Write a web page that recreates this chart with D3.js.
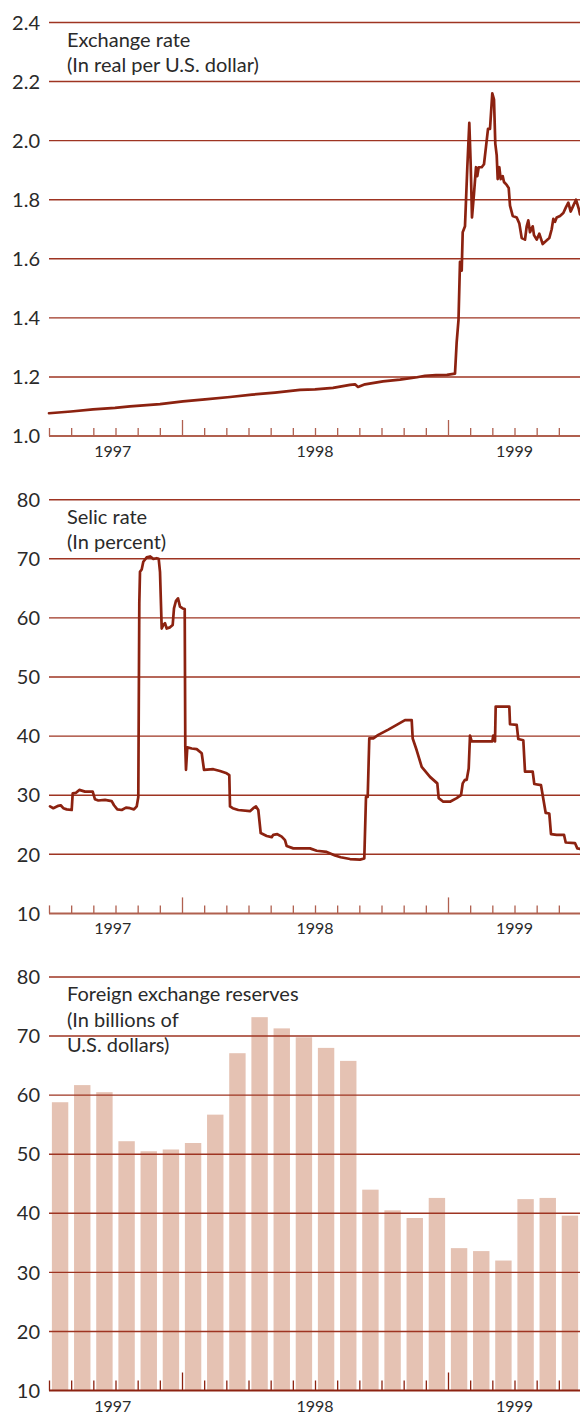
<!DOCTYPE html>
<html>
<head>
<meta charset="utf-8">
<script src="https://d3js.org/d3.v7.min.js"></script>
<style>
body{margin:0;background:#fff;}
svg text{font-family:Lato,"Open Sans",sans-serif;fill:#2a2a2a;}
</style>
</head>
<body>
<svg id="chart" width="580" height="1414"></svg>
<script>
/* time is kept as decimal years (1997.5 = July 1997) */
var monthTicks = d3.range(0, 25).map(function(k){ return 1997.5 + k / 12; });
var yearLabels = ['1997', '1998', '1999'];
var yearLabelAt = [1997.74, 1998.5, 1999.25];

// exchange rate, real per U.S. dollar
var exTime = [1997.5,1997.5827,1997.6654,1997.7481,1997.8045,1997.9173,1998.0038,1998.0865,1998.1805,1998.2632,
	1998.3496,1998.4436,1998.5,1998.5677,1998.6316,1998.6504,1998.6617,1998.688,1998.7556,1998.8195,
	1998.8835,1998.9135,1998.9549,1998.9962,1999.0263,1999.0327,1999.0395,1999.0451,1999.0515,1999.0553,
	1999.0639,1999.0726,1999.0801,1999.0853,1999.0902,1999.0977,1999.1053,1999.1102,1999.1154,1999.1267,
	1999.1353,1999.1429,1999.1504,1999.1579,1999.1665,1999.1729,1999.1778,1999.1831,1999.1868,1999.1929,
	1999.1981,1999.2056,1999.2105,1999.2207,1999.2282,1999.2331,1999.2432,1999.2583,1999.268,1999.2771,
	1999.2895,1999.2959,1999.3019,1999.3083,1999.3184,1999.3233,1999.3335,1999.3432,1999.356,1999.3684,
	1999.3808,1999.3898,1999.3959,1999.4023,1999.4086,1999.4211,1999.4335,1999.4436,1999.4523,1999.4613,
	1999.4711,1999.4812,1999.4914,1999.4962];
var exRate = [1.077,1.083,1.090,1.095,1.100,1.108,1.117,1.124,1.132,1.140,
	1.147,1.156,1.158,1.163,1.173,1.175,1.166,1.175,1.185,1.191,
	1.199,1.204,1.206,1.207,1.211,1.319,1.393,1.59,1.56,1.69,
	1.71,1.91,2.06,1.92,1.74,1.82,1.91,1.88,1.91,1.91,
	1.92,1.98,2.04,2.04,2.16,2.14,1.99,1.95,1.87,1.91,
	1.87,1.88,1.86,1.85,1.84,1.78,1.745,1.74,1.72,1.67,
	1.665,1.71,1.73,1.69,1.71,1.68,1.665,1.685,1.65,1.66,
	1.67,1.70,1.735,1.725,1.74,1.745,1.755,1.775,1.79,1.76,
	1.78,1.80,1.77,1.75];
var exTicks = [1.0, 1.2, 1.4, 1.6, 1.8, 2.0, 2.2, 2.4];

// selic rate, percent
var selicTime = [1997.5038,1997.5162,1997.535,1997.544,1997.5538,1997.5665,1997.5853,1997.5891,1997.6015,1997.6139,
	1997.6353,1997.6643,1997.6729,1997.6853,1997.7105,1997.7357,1997.7444,1997.7568,1997.7733,1997.7895,
	1997.8045,1997.8195,1997.8297,1997.8357,1997.8395,1997.8421,1997.8485,1997.8545,1997.8673,1997.8797,
	1997.8921,1997.9049,1997.9124,1997.9173,1997.9237,1997.9297,1997.9361,1997.9425,1997.9549,1997.965,
	1997.9699,1997.9774,1997.985,1997.9925,1998.0026,1998.0102,1998.0124,1998.015,1998.0199,1998.0365,
	1998.0553,1998.0741,1998.0827,1998.1177,1998.1429,1998.168,1998.1778,1998.1805,1998.1906,1998.2117,
	1998.2556,1998.268,1998.2782,1998.2868,1998.2959,1998.3184,1998.3372,1998.3432,1998.3583,1998.3748,
	1998.3872,1998.3936,1998.4184,1998.4812,1998.5064,1998.544,1998.5752,1998.5966,1998.6316,1998.6692,
	1998.6853,1998.6917,1998.6981,1998.7041,1998.7192,1998.738,1998.7756,1998.8071,1998.8383,1998.8635,
	1998.8673,1998.8823,1998.9011,1998.9323,1998.9598,1998.965,1998.9823,1999.0075,1999.0327,1999.0489,
	1999.0553,1999.0639,1999.0703,1999.0778,1999.0827,1999.0891,1999.1203,1999.1665,1999.1703,1999.1767,
	1999.1793,1999.2305,1999.2331,1999.2583,1999.2643,1999.2831,1999.2895,1999.3184,1999.3244,1999.3496,
	1999.3673,1999.3808,1999.3872,1999.4086,1999.4361,1999.4425,1999.4774,1999.4861,1999.4962];
var selicRate = [28.1,27.8,28.2,28.3,27.8,27.6,27.5,30.3,30.4,30.9,
	30.6,30.6,29.3,29.1,29.2,29.0,28.3,27.6,27.5,27.9,
	27.8,27.6,28.1,29.7,62.5,67.8,68.2,69.5,70.25,70.4,
	70.0,70.1,70.0,67.8,58.2,58.8,59.1,58.2,58.4,58.8,
	61.6,62.9,63.3,61.9,61.6,61.5,38.2,34.3,38.1,37.9,
	37.8,37.1,34.3,34.4,34.1,33.7,33.4,28.1,27.8,27.5,
	27.3,27.8,28.1,27.5,23.6,23.1,22.9,23.3,23.4,23.0,
	22.4,21.4,21.0,21.0,20.6,20.4,19.8,19.5,19.2,19.1,
	19.3,29.7,29.7,39.6,39.6,40.2,41.1,41.9,42.7,42.7,
	39.6,37.6,34.8,33.1,32.0,29.5,28.9,28.9,29.5,30.0,
	32.0,32.6,32.6,34.5,40.1,39.1,39.1,39.1,40.1,39.1,
	45.0,45.0,42.0,41.9,39.5,39.3,34.0,34.0,31.9,31.7,
	27.0,26.9,23.4,23.3,23.3,22.0,21.9,21.0,20.9];
var pctTicks = [10, 20, 30, 40, 50, 60, 70, 80];

// foreign exchange reserves, billions of U.S. dollars, monthly
var reserveMonths = ['1997-07','1997-08','1997-09','1997-10','1997-11','1997-12','1998-01','1998-02',
	'1998-03','1998-04','1998-05','1998-06','1998-07','1998-08','1998-09','1998-10','1998-11','1998-12',
	'1999-01','1999-02','1999-03','1999-04','1999-05','1999-06'];
var reserves = [58.8,61.7,60.5,52.2,50.5,50.8,51.9,56.7,67.1,73.2,71.3,69.8,
	68.0,65.8,44.0,40.5,39.2,42.6,34.1,33.6,32.0,42.4,42.6,39.6];

var LINE = '#8c2210', GRID = '#9e3422', AXIS = '#b0604f', BAR = '#e5c2b3';
var svg = d3.select('#chart');
var x = d3.scaleLinear().domain([1997.5, 1999.5]).range([49, 581]);
var left = 49, right = 580;

function monthToYear( s ){
	var p = s.split('-');
	return +p[0] + (+p[1] - 1) / 12;
}

function drawPanel( opt ){
	var g = svg.append('g');
	var y = d3.scaleLinear().domain(opt.domain).range(opt.range);
	var ticks = opt.ticks;

	if( opt.bars ){
		var step = x(1997.5 + 1/12) - x(1997.5);
		g.append('g').selectAll('rect')
			.data(opt.bars)
			.join('rect')
			.attr('x', function(d){ return x(d[0] + 1/24) - step * 0.37; })
			.attr('width', step * 0.74)
			.attr('y', function(d){ return y(d[1]); })
			.attr('height', function(d){ return y(opt.domain[0]) - y(d[1]); })
			.attr('fill', BAR);
	}

	// gridlines (the lowest one is the axis)
	g.append('g').selectAll('line')
		.data(ticks.slice(1))
		.join('line')
		.attr('x1', left).attr('x2', right)
		.attr('y1', function(d){ return y(d); })
		.attr('y2', function(d){ return y(d); })
		.attr('stroke', GRID)
		.attr('stroke-width', 1.4);

	g.append('g').selectAll('text')
		.data(ticks)
		.join('text')
		.attr('x', 40)
		.attr('y', function(d){ return y(d); })
		.attr('dy', '0.36em')
		.attr('text-anchor', 'end')
		.style('font-size', '20px')
		.text(opt.fmt);

	if( opt.line ){
		var line = d3.line()
			.x(function(d){ return x(d[0]); })
			.y(function(d){ return y(d[1]); });
		g.append('path')
			.datum(opt.line)
			.attr('d', line)
			.attr('fill', 'none')
			.attr('stroke', LINE)
			.attr('stroke-width', 2.7)
			.attr('stroke-linejoin', 'round')
			.attr('stroke-linecap', 'round');
	}

	// time axis with month ticks, taller at the new year
	var y0 = y(opt.domain[0]);
	var axisColor = opt.bars ? LINE : AXIS;
	var axis = d3.axisTop(x)
		.tickValues(monthTicks)
		.tickSize(0)
		.tickFormat('');
	var ga = g.append('g').attr('transform', 'translate(0,' + y0 + ')').call(axis);
	ga.select('.domain').remove();
	ga.selectAll('.tick line')
		.attr('y2', function(d){
			var isYear = Math.abs(d - Math.round(d)) < 0.001;
			return -(isYear ? opt.major : opt.minor);
		})
		.attr('stroke', axisColor)
		.attr('stroke-width', 1.3);
	g.append('line')
		.attr('x1', left).attr('x2', right)
		.attr('y1', y0).attr('y2', y0)
		.attr('stroke', axisColor)
		.attr('stroke-width', 2);

	g.append('g').selectAll('text')
		.data(yearLabels)
		.join('text')
		.attr('x', function(d, i){ return x(yearLabelAt[i]); })
		.attr('y', y0 + 21)
		.attr('text-anchor', 'middle')
		.style('font-size', '16px')
		.text(function(d){ return d; });

	var title = g.append('text')
		.attr('x', 67)
		.attr('y', opt.range[1] + 24)
		.style('font-size', '20px');
	opt.title.forEach(function(s, i){
		title.append('tspan')
			.attr('x', 67)
			.attr('dy', i ? 25.5 : 0)
			.text(s);
	});
}

drawPanel({
	domain: [1.0, 2.4], range: [436, 22.5], ticks: exTicks,
	fmt: d3.format('.1f'),
	line: d3.zip(exTime, exRate),
	minor: 8, major: 16,
	title: ['Exchange rate', '(In real per U.S. dollar)']
});

drawPanel({
	domain: [10, 80], range: [913.4, 499.7], ticks: pctTicks,
	fmt: d3.format('d'),
	line: d3.zip(selicTime, selicRate),
	minor: 8, major: 16,
	title: ['Selic rate', '(In percent)']
});

drawPanel({
	domain: [10, 80], range: [1390.5, 977], ticks: pctTicks,
	fmt: d3.format('d'),
	bars: d3.zip(reserveMonths.map(monthToYear), reserves),
	minor: 10, major: 18,
	title: ['Foreign exchange reserves', '(In billions of', 'U.S. dollars)']
});
</script>
</body>
</html>
